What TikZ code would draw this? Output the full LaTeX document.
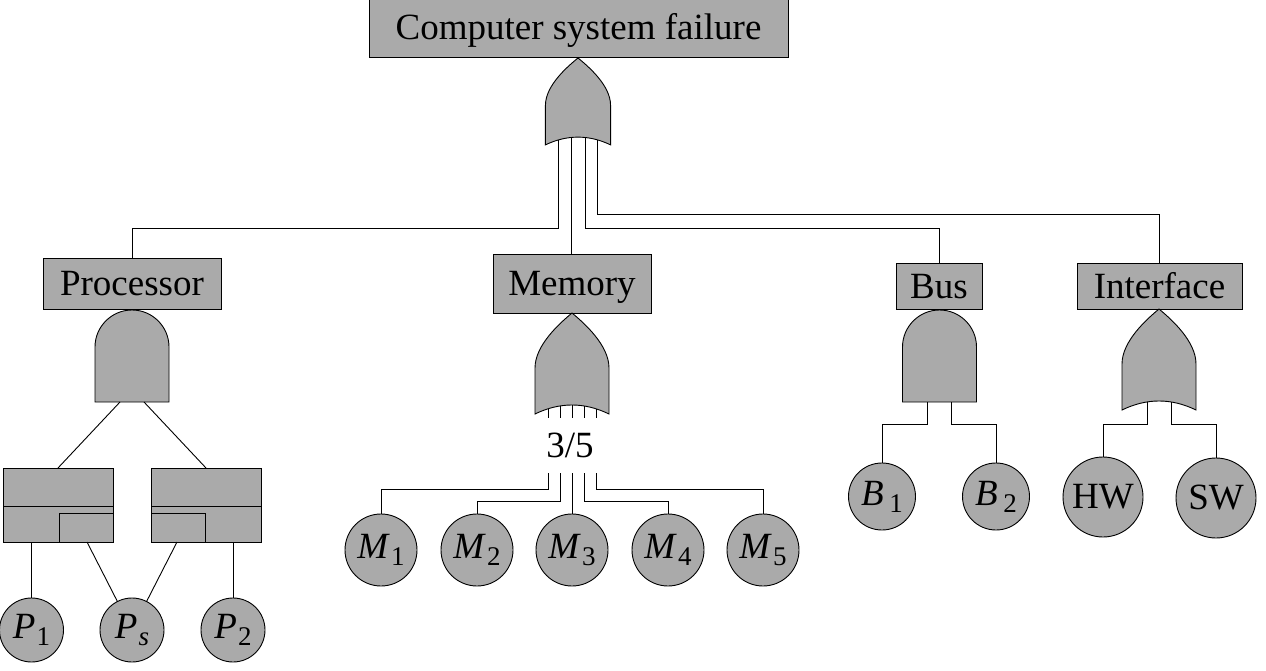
\documentclass[tikz,border=0pt]{standalone}
\usepackage{fontspec}
\setmainfont{Liberation Serif}
\usepackage{tikz}
\usetikzlibrary{positioning}

\definecolor{ftgray}{RGB}{170,170,170}
\newcommand{\evt}[2]{\textit{#1}\kern1pt\raisebox{-7pt}{\fontsize{27}{27}\selectfont #2}}

\begin{document}
\begin{tikzpicture}[x=1pt, y=-1pt, line width=0.9pt,
    font=\fontsize{37}{40}\selectfont,
    event/.style={rectangle, draw, fill=ftgray, inner sep=0pt, text height=24pt, text depth=0pt},
    basic/.style={circle, draw, fill=ftgray, inner sep=0pt, minimum size=72pt},
    gate/.style={draw, fill=ftgray},
    pics/orgate/.style={code={
      \draw[gate] (-37,101) -- (-37,55) .. controls (-37,32) and (-12,10) .. (0,0)
        .. controls (12,10) and (37,32) .. (37,55) -- (37,101)
        .. controls (12.3,89) and (-12.3,89) .. (-37,101) -- cycle;
      \foreach \dx [count=\i] in {#1}
        \coordinate (-\i) at (\dx,{92+9*\dx*\dx/1369});
    }},
    pics/andgate/.style={code={
      \draw[gate] (-37,92) -- (-37,37) .. controls (-37,16.6) and (-20.4,0) .. (0,0)
        .. controls (20.4,0) and (37,16.6) .. (37,37) -- (37,92) -- cycle;
      \coordinate (-1) at (-12,92);
      \coordinate (-2) at (12,92);
    }},
    pics/spare/.style={code={
      \draw[gate] (-55,0) rectangle (55,74);
      \draw (-55,38) -- (55,38);
      \draw (1,74) |- (55,45);
      \coordinate (-in) at (0,0);
      \coordinate (-pri) at (-27,74);
      \coordinate (-spr) at (29,74);
    }}]
  \useasboundingbox (0,0) rectangle (1266,671);

  % Events
  \node[event, minimum width=419pt, minimum height=58pt] (top) at (578.5,28) {Computer system failure};
  \node[event, minimum width=178pt, minimum height=51pt] (proc) at (132,283.5) {Processor};
  \node[event, minimum width=158pt, minimum height=59pt] (mem) at (572,283.5) {Memory};
  \node[event, minimum width=86pt, minimum height=46pt] (bus) at (939,286) {Bus};
  \node[event, minimum width=165pt, minimum height=46pt] (intf) at (1159.5,286) {Interface};

  % Gates
  \pic[xscale=0.88, yscale=0.86] (g0) at (578,58) {orgate={-22,-8,8,22}};
  \pic (g1) at (572,313) {orgate={-24,-12,0,12,24}};
  \pic (g2) at (132,310) {andgate};
  \pic (g3) at (939.5,310) {andgate};
  \pic (g4) at (1159,309) {orgate={-12,12}};
  \pic (sp1) at (58,468) {spare};
  \pic[xscale=-1] (sp2) at (206,468) {spare};
  \node[inner sep=0pt, minimum height=55pt] (vote) at (570,445.5) {3/5};

  % Basic events
  \node[basic, minimum size=64pt] (p1) at (31.5,630) {\evt{P}{1}};
  \node[basic, minimum size=64pt] (ps) at (132,630) {\evt{P}{\textit{s}}};
  \node[basic, minimum size=64pt] (p2) at (233,630) {\evt{P}{2}};
  \node[basic] (m1) at (381,550) {\evt{M}{1}};
  \node[basic] (m2) at (477,550) {\evt{M}{2}};
  \node[basic] (m3) at (572,550) {\evt{M}{3}};
  \node[basic] (m4) at (668,550) {\evt{M}{4}};
  \node[basic] (m5) at (763,550) {\evt{M}{5}};
  \node[basic, minimum size=67pt] (b1) at (882,496.5) {\evt{B}{\,1}};
  \node[basic, minimum size=67pt] (b2) at (996,496.5) {\evt{B}{\,2}};
  \node[basic, minimum size=80pt] (hw) at (1103,497) {HW};
  \node[basic, minimum size=80pt] (sw) at (1216,498) {SW};

  % Bend levels
  \coordinate (lvl1) at (0,228);
  \coordinate (lvl2) at (0,214);
  \coordinate (mlvl1) at (0,489);
  \coordinate (mlvl2) at (0,501);
  \coordinate (blvl) at (0,424);

  % Connections
  \draw (g0-1) -- (g0-1 |- lvl1) -| (proc);
  \draw (g0-2) -- (g0-2 |- mem.north);
  \draw (g0-3) -- (g0-3 |- lvl1) -| (bus);
  \draw (g0-4) -- (g0-4 |- lvl2) -| (intf);

  \draw (g2-1) -- (sp1-in);
  \draw (g2-2) -- (sp2-in);
  \draw (sp1-pri) -- (sp1-pri |- p1.north);
  \draw (sp1-spr) -- (ps);
  \draw (sp2-spr) -- (ps);
  \draw (sp2-pri) -- (sp2-pri |- p2.north);

  \foreach \i in {1,...,5}
    \draw (g1-\i) -- (g1-\i |- vote.north);
  \draw (g1-1 |- vote.south) -- (g1-1 |- mlvl1) -| (m1);
  \draw (g1-2 |- vote.south) -- (g1-2 |- mlvl2) -| (m2);
  \draw (g1-3 |- vote.south) -- (g1-3 |- m3.north);
  \draw (g1-4 |- vote.south) -- (g1-4 |- mlvl2) -| (m4);
  \draw (g1-5 |- vote.south) -- (g1-5 |- mlvl1) -| (m5);

  \draw (g3-1) -- (g3-1 |- blvl) -| (b1);
  \draw (g3-2) -- (g3-2 |- blvl) -| (b2);
  \draw (g4-1) -- (g4-1 |- blvl) -| (hw);
  \draw (g4-2) -- (g4-2 |- blvl) -| (sw);
\end{tikzpicture}
\end{document}
